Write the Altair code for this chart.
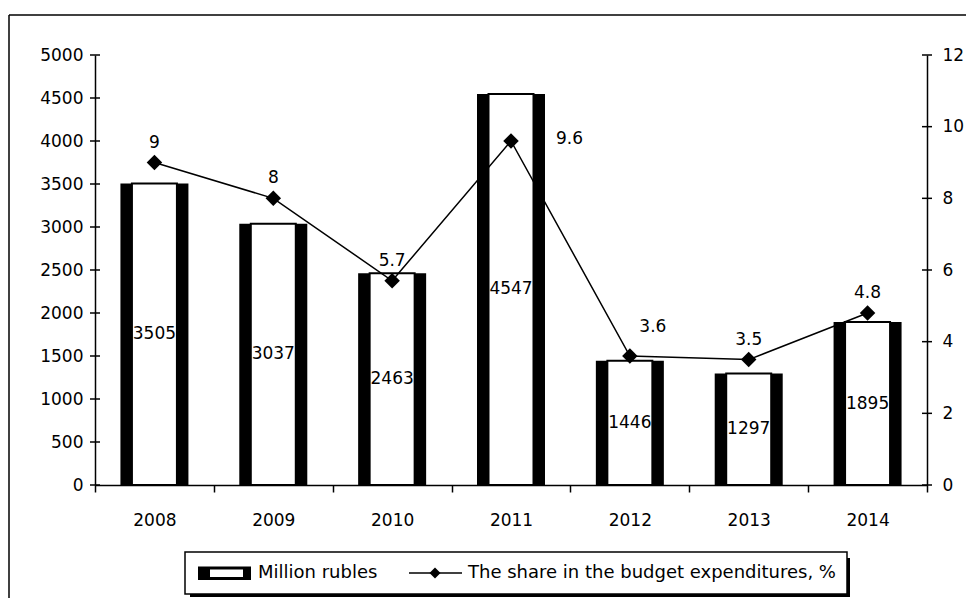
import altair as alt
import pandas as pd

years = ["2008", "2009", "2010", "2011", "2012", "2013", "2014"]
million_rubles = [3505, 3037, 2463, 4547, 1446, 1297, 1895]
share_pct = [9, 8, 5.7, 9.6, 3.6, 3.5, 4.8]
left_ticks = [0, 500, 1000, 1500, 2000, 2500, 3000, 3500, 4000, 4500, 5000]
right_ticks = [0, 2, 4, 6, 8, 10, 12]
legend_labels = ["Million rubles", "The share in the budget expenditures, %"]

FONT = "DejaVu Sans"
FS = 17
W, H = 832, 430

df = pd.DataFrame({"Year": years, "Million": million_rubles, "Share": share_pct})

x_axis = alt.Axis(title=None, labelAngle=0, domainColor="black", domainWidth=1.5,
                  tickColor="black", tickWidth=1.5, tickSize=7, tickBand="extent",
                  labelPadding=20, labelFont=FONT, labelFontSize=FS, labelColor="black",
                  grid=False)
x_enc = alt.X("Year:N", axis=x_axis, scale=alt.Scale(paddingInner=0, paddingOuter=0),
              sort=years)

left_scale = alt.Scale(domain=[0, 5000], nice=False)
left_axis = alt.Axis(title=None, values=left_ticks, ticks=False, domainColor="black",
                     domainWidth=1.5, labelPadding=12, labelFont=FONT, labelFontSize=FS,
                     labelColor="black", grid=False, orient="left", format="d")
right_scale = alt.Scale(domain=[0, 12], nice=False)
right_axis = alt.Axis(title=None, values=right_ticks, ticks=False, domainColor="black",
                      domainWidth=1.5, labelPadding=15, labelFont=FONT, labelFontSize=FS,
                      labelColor="black", grid=False, orient="right", format="d")

base = alt.Chart(df)

bars_black = base.mark_bar(width=68, color="black").encode(
    x=x_enc, y=alt.Y("Million:Q", scale=left_scale, axis=left_axis))
bars_white = base.mark_bar(width=45, color="white", stroke="black", strokeWidth=2).encode(
    x=x_enc, y=alt.Y("Million:Q", scale=left_scale, axis=left_axis))
bar_text = base.transform_calculate(half="datum.Million / 2").mark_text(
    font=FONT, fontSize=FS, color="black", baseline="middle").encode(
    x=x_enc, y=alt.Y("half:Q", scale=left_scale, axis=left_axis), text="Million:Q")
lt = alt.Chart(pd.DataFrame({"t": left_ticks})).mark_rule(color="black", strokeWidth=1.5).encode(
    y=alt.Y("t:Q", scale=left_scale, axis=left_axis), x=alt.value(-5), x2=alt.value(5))

# decorations: outer frame and legend
one = alt.Data(values=[{"a": 1}])
frame_top = alt.Chart(one).mark_rule(color="black", strokeWidth=1.5).encode(
    x=alt.value(-86), x2=alt.value(871), y=alt.value(-40))
frame_left = alt.Chart(one).mark_rule(color="black", strokeWidth=1.5).encode(
    x=alt.value(-86), y=alt.value(-40), y2=alt.value(545))
leg_shadow1 = alt.Chart(one).mark_rect(color="black").encode(
    x=alt.value(95), x2=alt.value(755), y=alt.value(538), y2=alt.value(542))
leg_shadow2 = alt.Chart(one).mark_rect(color="black").encode(
    x=alt.value(751), x2=alt.value(755), y=alt.value(503), y2=alt.value(542))
leg_box = alt.Chart(one).mark_rect(fill="white", stroke="black", strokeWidth=1.5).encode(
    x=alt.value(90), x2=alt.value(752), y=alt.value(497), y2=alt.value(539))
leg_sym_o = alt.Chart(one).mark_rect(color="black").encode(
    x=alt.value(103), x2=alt.value(156), y=alt.value(511.5), y2=alt.value(525))
leg_sym_i = alt.Chart(one).mark_rect(color="white").encode(
    x=alt.value(115), x2=alt.value(148), y=alt.value(514.5), y2=alt.value(522))
leg_line = alt.Chart(one).mark_rule(color="black", strokeWidth=1.5).encode(
    x=alt.value(314), x2=alt.value(367), y=alt.value(518))
leg_pt = alt.Chart(one).mark_point(shape="diamond", filled=True, color="black", size=121,
                                   opacity=1).encode(x=alt.value(340), y=alt.value(518))
leg_text = alt.Chart(pd.DataFrame({"label": legend_labels, "pos": [163, 373]})).mark_text(
    font=FONT, fontSize=18, color="black", align="left", baseline="middle").encode(
    x=alt.X("pos:Q", scale=None), y=alt.value(518), text="label:N")

left = alt.layer(bars_black, bars_white, bar_text, lt, frame_top, frame_left,
                 leg_shadow1, leg_shadow2, leg_box, leg_sym_o, leg_sym_i, leg_line,
                 leg_pt, leg_text)

line = base.mark_line(color="black", strokeWidth=1.5).encode(
    x=x_enc, y=alt.Y("Share:Q", scale=right_scale, axis=right_axis))
pts = base.mark_point(shape="diamond", filled=True, color="black", size=240, opacity=1).encode(
    x=x_enc, y=alt.Y("Share:Q", scale=right_scale, axis=right_axis))
lbl = base.transform_filter("datum.Year != '2011' && datum.Year != '2012'").mark_text(
    font=FONT, fontSize=FS, color="black", baseline="middle", dy=-20).encode(
    x=x_enc, y=alt.Y("Share:Q", scale=right_scale, axis=right_axis), text="Share:Q")
lbl2 = base.transform_filter("datum.Year == '2011'").mark_text(
    font=FONT, fontSize=FS, color="black", baseline="middle", align="left", dx=45, dy=-2).encode(
    x=x_enc, y=alt.Y("Share:Q", scale=right_scale, axis=right_axis), text="Share:Q")
lbl3 = base.transform_filter("datum.Year == '2012'").mark_text(
    font=FONT, fontSize=FS, color="black", baseline="middle", dx=23, dy=-29).encode(
    x=x_enc, y=alt.Y("Share:Q", scale=right_scale, axis=right_axis), text="Share:Q")
rt = alt.Chart(pd.DataFrame({"t": right_ticks})).mark_rule(color="black", strokeWidth=1.5).encode(
    y=alt.Y("t:Q", scale=right_scale, axis=right_axis), x=alt.value(W - 5), x2=alt.value(W + 5))

right = alt.layer(line, pts, lbl, lbl2, lbl3, rt)

chart = alt.layer(left, right).resolve_scale(y="independent").properties(
    width=W, height=H,
    padding={"left": 87, "top": 47, "right": 39, "bottom": 113},
    autosize=alt.AutoSizeParams(type="none"),
    background="white",
).configure_view(stroke=None)

chart.save("out.html", embed_options={"renderer": "svg", "actions": False})
